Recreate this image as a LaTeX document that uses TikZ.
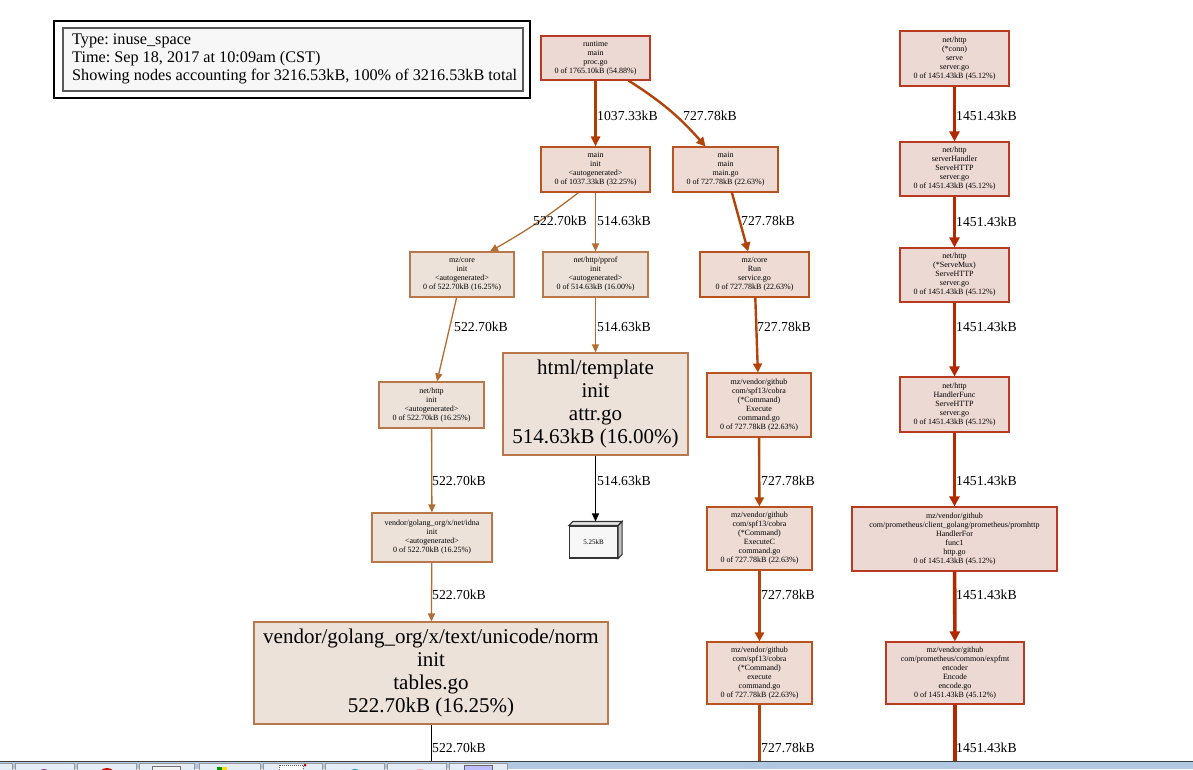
\documentclass[tikz,border=0pt]{standalone}
\usepackage{fontspec}
\setmainfont{Liberation Serif}
\usetikzlibrary{arrows.meta}
\frenchspacing
\definecolor{nfHot}{HTML}{EDD9D4}
\definecolor{nbHot}{HTML}{B83A20}
\definecolor{nfWarm}{HTML}{EDDBD4}
\definecolor{nbWarm}{HTML}{B8521F}
\definecolor{nfMild}{HTML}{EDE2DA}
\definecolor{nbMild}{HTML}{B8784A}
\definecolor{eHot}{HTML}{B22800}
\definecolor{eBig}{HTML}{B23C00}
\definecolor{eMid}{HTML}{B2440A}
\definecolor{eLow}{HTML}{B26D32}
\definecolor{barBlue}{HTML}{B0C8E2}
\definecolor{btnFill}{HTML}{E4ECF5}
\tikzset{
  fn/.style={draw,rectangle,inner sep=0pt,align=center,line width=1.1pt,font=\fontsize{8}{9}\selectfont},
  big/.style={font=\fontsize{21}{23}\selectfont},
  hot/.style={fn,fill=nfHot,draw=nbHot},
  warm/.style={fn,fill=nfWarm,draw=nbWarm},
  mild/.style={fn,fill=nfMild,draw=nbMild},
  lbl/.style={anchor=west,inner sep=0pt,font=\fontsize{13.7}{15}\selectfont},
  e45/.style={draw=eHot,line width=3.6pt,-{Triangle[length=10pt,width=10pt]}},
  e32/.style={draw=eBig,line width=3pt,-{Triangle[length=10pt,width=9pt]}},
  e22/.style={draw=eMid,line width=2.4pt,-{Triangle[length=9pt,width=9pt]}},
  e16/.style={draw=eLow,line width=1.3pt,-{Triangle[length=8pt,width=7pt]}},
  eblk/.style={draw=black,line width=1.2pt,-{Triangle[length=8pt,width=7pt]}}
}
\begin{document}
\begin{tikzpicture}[x=1pt,y=-1pt]
\useasboundingbox (0,0) rectangle (1193,769);
\fill[white] (0,0) rectangle (1193,769);
% legend
\draw[line width=1.3pt] (54,21) rectangle (530,98);
\filldraw[fill=black!3,draw=black!65,line width=1.5pt] (63,28) rectangle (523,91);
\node[anchor=north west,inner sep=0pt,align=left,font=\fontsize{16.2}{18}\selectfont]
  (leg) at (72,33.5) {Type: inuse\_space\\Time: Sep 18, 2017 at 10:09am (CST)\\Showing nodes accounting for 3216.53kB, 100\% of 3216.53kB total};
% nodes
\node[hot,minimum width=109pt,minimum height=44pt] (rt) at (595.5,58) {runtime\\main\\proc.go\\0 of 1765.10kB (54.88\%)};
\node[warm,minimum width=109pt,minimum height=45pt] (mi) at (595.5,169.5) {main\\init\\<autogenerated>\\0 of 1037.33kB (32.25\%)};
\node[warm,minimum width=105pt,minimum height=45pt] (mm) at (725.5,169.5) {main\\main\\main.go\\0 of 727.78kB (22.63\%)};
\node[hot,minimum width=109pt,minimum height=55pt] (cn) at (954.5,58.5) {net/http\\(*conn)\\serve\\server.go\\0 of 1451.43kB (45.12\%)};
\node[hot,minimum width=109pt,minimum height=54pt] (sh) at (954.5,169) {net/http\\serverHandler\\ServeHTTP\\server.go\\0 of 1451.43kB (45.12\%)};
\node[hot,minimum width=109pt,minimum height=54pt] (mx) at (954.5,275) {net/http\\(*ServeMux)\\ServeHTTP\\server.go\\0 of 1451.43kB (45.12\%)};
\node[mild,minimum width=104pt,minimum height=45pt] (mzi) at (462,274.5) {mz/core\\init\\<autogenerated>\\0 of 522.70kB (16.25\%)};
\node[mild,minimum width=105pt,minimum height=45pt] (pp) at (595.5,274.5) {net/http/pprof\\init\\<autogenerated>\\0 of 514.63kB (16.00\%)};
\node[warm,minimum width=109pt,minimum height=45pt] (run) at (754.5,274.5) {mz/core\\Run\\service.go\\0 of 727.78kB (22.63\%)};
\node[mild,minimum width=105pt,minimum height=46pt] (nhi) at (431.5,405) {net/http\\init\\<autogenerated>\\0 of 522.70kB (16.25\%)};
\node[mild,big,minimum width=185pt,minimum height=102pt] (ht) at (595.5,404) {html/template\\init\\attr.go\\514.63kB (16.00\%)};
\node[warm,minimum width=104pt,minimum height=64pt] (ex) at (759,405) {mz/vendor/github\\com/spf13/cobra\\(*Command)\\Execute\\command.go\\0 of 727.78kB (22.63\%)};
\node[hot,minimum width=109pt,minimum height=55pt] (hf) at (954.5,404.5) {net/http\\HandlerFunc\\ServeHTTP\\server.go\\0 of 1451.43kB (45.12\%)};
\node[mild,minimum width=120pt,minimum height=49pt] (id) at (432,537.5) {vendor/golang\_org/x/net/idna\\init\\<autogenerated>\\0 of 522.70kB (16.25\%)};
\node[fn,fill=black!3,draw=black!80,minimum width=48pt,minimum height=32pt,font=\fontsize{7}{8}\selectfont] (b5) at (593.5,542) {5.25kB};
\filldraw[fill=black!25,draw=black!80,line width=1.1pt] (b5.north east) -- ++(4,-4) -- ([shift={(4,-4)}]b5.south east) -- (b5.south east) -- cycle;
\filldraw[fill=black!10,draw=black!80,line width=1.1pt] (b5.north west) -- ++(4,-4) -- ([shift={(4,-4)}]b5.north east) -- (b5.north east) -- cycle;
\node[warm,minimum width=105pt,minimum height=63pt] (exc) at (759.5,538.5) {mz/vendor/github\\com/spf13/cobra\\(*Command)\\ExecuteC\\command.go\\0 of 727.78kB (22.63\%)};
\node[hot,minimum width=205pt,minimum height=64pt] (ph) at (954.5,539) {mz/vendor/github\\com/prometheus/client\_golang/prometheus/promhttp\\HandlerFor\\func1\\http.go\\0 of 1451.43kB (45.12\%)};
\node[mild,big,minimum width=354pt,minimum height=102pt] (nm) at (431,673) {vendor/golang\_org/x/text/unicode/norm\\init\\tables.go\\522.70kB (16.25\%)};
\node[warm,minimum width=105pt,minimum height=62pt] (exe) at (759.5,673) {mz/vendor/github\\com/spf13/cobra\\(*Command)\\execute\\command.go\\0 of 727.78kB (22.63\%)};
\node[hot,minimum width=138pt,minimum height=62pt] (ef) at (955,673) {mz/vendor/github\\com/prometheus/common/expfmt\\encoder\\Encode\\encode.go\\0 of 1451.43kB (45.12\%)};
\coordinate (nmEnd) at (431,769);
\coordinate (exeEnd) at (759.5,769);
\coordinate (efEnd) at (955,769);
% edges
\draw[e32] (rt) -- (mi);
\draw[e22] ([xshift=33pt]rt.south) to[bend left=8] ([xshift=-20pt]mm.north);
\draw[e45] (cn) -- (sh);
\draw[e45] (sh) -- (mx);
\draw[e45] (mx) -- (hf);
\draw[e45] (hf) -- (ph);
\draw[e45] (ph) -- (ef);
\draw[e45,-] (ef) -- (efEnd);
\draw[e16] ([xshift=-17pt]mi.south) to[bend left=4] ([xshift=28pt]mzi.north);
\draw[e16] (mi) -- (pp);
\draw[e22] (mm) -- (run);
\draw[e16] (mzi) -- (nhi);
\draw[e16] (pp) -- (ht);
\draw[e22] (run) -- (ex);
\draw[e16] (nhi) -- (id);
\draw[eblk] (ht.south) -- ([xshift=2pt,yshift=4pt]b5.north);
\draw[e22] (ex) -- (exc);
\draw[e16] (id) -- (nm);
\draw[e22] (exc) -- (exe);
\draw[eblk,-,line width=1pt] (nm) -- (nmEnd);
\draw[e22,-] (exe) -- (exeEnd);
% edge labels
\node[lbl] at (597,116) {1037.33kB};
\node[lbl] at (683,116) {727.78kB};
\node[lbl] at (956,116) {1451.43kB};
\node[lbl] at (533,221) {522.70kB};
\node[lbl] at (597,221) {514.63kB};
\node[lbl] at (741,221) {727.78kB};
\node[lbl] at (956,222) {1451.43kB};
\node[lbl] at (454,327) {522.70kB};
\node[lbl] at (597,327) {514.63kB};
\node[lbl] at (757,327) {727.78kB};
\node[lbl] at (956,327) {1451.43kB};
\node[lbl] at (432,481) {522.70kB};
\node[lbl] at (597,481) {514.63kB};
\node[lbl] at (761,481) {727.78kB};
\node[lbl] at (956,481) {1451.43kB};
\node[lbl] at (432,595) {522.70kB};
\node[lbl] at (761,595) {727.78kB};
\node[lbl] at (956,595) {1451.43kB};
\node[lbl] at (432,748) {522.70kB};
\node[lbl] at (761,748) {727.78kB};
\node[lbl] at (956,748) {1451.43kB};
% taskbar
\fill[barBlue] (0,761) rectangle (1193,769);
\draw[black!75,line width=1pt] (0,761) -- (1193,761);
\foreach \a/\b in {-4/12,15/74,77/136,139/194,199/260,263/322,325/384,387/446,449/507}
  \draw[fill=btnFill,draw=black!40,line width=0.8pt] (\a,763.5) rectangle (\b,772);
\fill[violet!80] (44,775) circle (6);
\fill[red!80!black] (107,777) circle (9);
\draw[black!55,fill=black!5] (152,766) rectangle (180,772);
\fill[green!60!black] (217,767) rectangle (222,772);
\fill[yellow!80!orange] (222,767) rectangle (227,772);
\draw[black!60,fill=white,dash pattern=on 1pt off 1pt] (279,765) rectangle (303,772);
\fill[red!70!black] (305,765) circle (1.5);
\fill[cyan!80!blue] (355,776) circle (7);
\fill[red!35] (420,776) circle (7);
\draw[black!60,fill=blue!25] (464,765) rectangle (492,772);
\end{tikzpicture}
\end{document}
